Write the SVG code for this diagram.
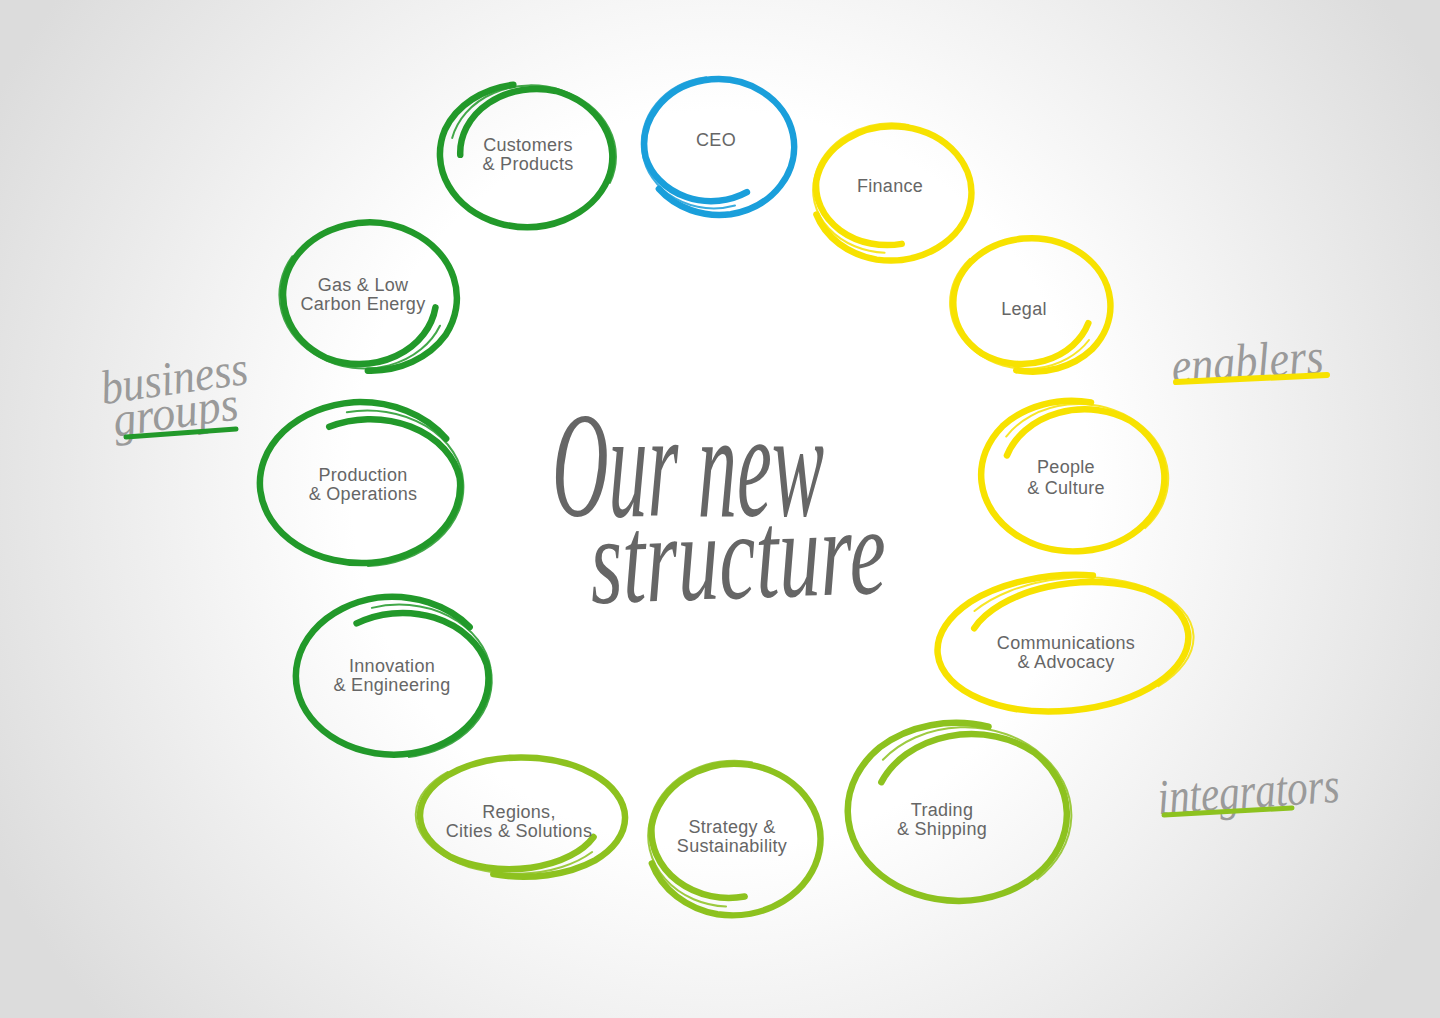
<svg xmlns="http://www.w3.org/2000/svg" xmlns:xlink="http://www.w3.org/1999/xlink" width="1440" height="1018" viewBox="0 0 1440 1018">
<style>
.lbl{font-family:"Liberation Sans",Roboto,Arial,sans-serif;font-size:18px;fill:#666;stroke:none;text-anchor:middle;letter-spacing:0.3px}
.scr{font-family:"Liberation Serif","DejaVu Serif",serif;font-style:italic;stroke:none}
.dg{stroke:#22992a}
.bl{stroke:#1a9fdb}
.yl{stroke:#f7e200}
.lg{stroke:#8dc21f}
.main{fill:none;stroke-width:6.5;stroke-linecap:round}
.hair{fill:none;stroke-width:2;stroke-linecap:round;opacity:0.85}
</style>
<defs>
<radialGradient id="bg" gradientUnits="userSpaceOnUse" cx="720" cy="480" r="820">
<stop offset="0" stop-color="#ffffff"/>
<stop offset="0.45" stop-color="#ffffff"/>
<stop offset="1" stop-color="#dcdcdc"/>
</radialGradient>
<path id="loop" vector-effect="non-scaling-stroke" d="M75,-27 A90,90 0 0 1 0,96 A98,98 0 0 1 -100,0 A101,101 0 0 1 0,-102 A103,103 0 0 1 104,0 A102,102 0 0 1 50,87"/>
<path id="hair" vector-effect="non-scaling-stroke" d="M92,-8 A95,95 0 0 1 -6,99 A100,100 0 0 1 -104,-4 M-20,-101 A104,104 0 0 1 100,-22 A105,105 0 0 1 82,62"/>
</defs>
<rect width="1440" height="1018" fill="url(#bg)"/>

<g id="title">
<text class="scr" x="552" y="516" font-size="150" fill="#666" textLength="272" lengthAdjust="spacingAndGlyphs">Our new</text>
<text class="scr" x="590" y="598" font-size="125" fill="#666" textLength="296" lengthAdjust="spacingAndGlyphs" transform="rotate(-2 738 560)">structure</text>
</g>

<g id="label-business-groups">
<text class="scr" x="102" y="394" font-size="48" fill="#9a9a9a" textLength="148" lengthAdjust="spacingAndGlyphs" transform="rotate(-8 175 392)">business</text>
<text class="scr" x="114" y="428" font-size="48" fill="#9a9a9a" textLength="126" lengthAdjust="spacingAndGlyphs" transform="rotate(-8 175 424)">groups</text>
<path d="M126,437 L236,429" stroke="#22992a" stroke-width="5" stroke-linecap="round" fill="none"/>
</g>
<g id="label-enablers">
<text class="scr" x="1172" y="378" font-size="50" fill="#9a9a9a" textLength="152" lengthAdjust="spacingAndGlyphs" transform="rotate(-4 1248 370)">enablers</text>
<path d="M1176,382 L1327,375" stroke="#f7e200" stroke-width="6" stroke-linecap="round" fill="none"/>
</g>
<g id="label-integrators">
<text class="scr" x="1158" y="808" font-size="50" fill="#9a9a9a" textLength="182" lengthAdjust="spacingAndGlyphs" transform="rotate(-4 1248 800)">integrators</text>
<path d="M1164,815 L1292,808" stroke="#8dc21f" stroke-width="5" stroke-linecap="round" fill="none"/>
</g>

<g id="node-customers" class="dg">
<use href="#loop" class="main" transform="translate(528,155) scale(0.85,0.71) rotate(200)"/>
<use href="#hair" class="hair" transform="translate(528,155) scale(0.85,0.71) rotate(200)"/>
<text class="lbl" x="528" y="151">Customers</text>
<text class="lbl" x="528" y="170">&amp; Products</text>
</g>
<g id="node-ceo" class="bl">
<use href="#loop" class="main" transform="translate(717,146) scale(0.755,0.667) rotate(80)"/>
<use href="#hair" class="hair" transform="translate(717,146) scale(0.755,0.667) rotate(80)"/>
<text class="lbl" x="716" y="146">CEO</text>
</g>
<g id="node-finance" class="yl">
<use href="#loop" class="main" transform="translate(891,192) scale(0.79,0.66) rotate(100)"/>
<use href="#hair" class="hair" transform="translate(891,192) scale(0.79,0.66) rotate(100)"/>
<text class="lbl" x="890" y="192">Finance</text>
</g>
<g id="node-legal" class="yl">
<use href="#loop" class="main" transform="translate(1030,305) scale(0.78,0.66) rotate(40)"/>
<use href="#hair" class="hair" transform="translate(1030,305) scale(0.78,0.66) rotate(40)"/>
<text class="lbl" x="1024" y="315">Legal</text>
</g>
<g id="node-people" class="yl">
<use href="#loop" class="main" transform="translate(1075,476) scale(0.91,0.745) rotate(220)"/>
<use href="#hair" class="hair" transform="translate(1075,476) scale(0.91,0.745) rotate(220)"/>
<text class="lbl" x="1066" y="473">People</text>
<text class="lbl" x="1066" y="494">&amp; Culture</text>
</g>
<g id="node-communications" class="yl">
<use href="#loop" class="main" transform="translate(1066,643) rotate(-5) scale(1.25,0.67) rotate(225)"/>
<use href="#hair" class="hair" transform="translate(1066,643) rotate(-5) scale(1.25,0.67) rotate(225)"/>
<text class="lbl" x="1066" y="649">Communications</text>
<text class="lbl" x="1066" y="668">&amp; Advocacy</text>
</g>
<g id="node-trading" class="lg">
<use href="#loop" class="main" transform="translate(960,812) scale(1.09,0.88) rotate(225)"/>
<use href="#hair" class="hair" transform="translate(960,812) scale(1.09,0.88) rotate(225)"/>
<text class="lbl" x="942" y="816">Trading</text>
<text class="lbl" x="942" y="835">&amp; Shipping</text>
</g>
<g id="node-strategy" class="lg">
<use href="#loop" class="main" transform="translate(733,838) scale(0.86,0.745) rotate(100)"/>
<use href="#hair" class="hair" transform="translate(733,838) scale(0.86,0.745) rotate(100)"/>
<text class="lbl" x="732" y="833">Strategy &amp;</text>
<text class="lbl" x="732" y="852">Sustainability</text>
</g>
<g id="node-regions" class="lg">
<use href="#loop" class="main" transform="translate(520,817) scale(1.02,0.59) rotate(45)"/>
<use href="#hair" class="hair" transform="translate(520,817) scale(1.02,0.59) rotate(45)"/>
<text class="lbl" x="519" y="818">Regions,</text>
<text class="lbl" x="519" y="837">Cities &amp; Solutions</text>
</g>
<g id="node-innovation" class="dg">
<use href="#loop" class="main" transform="translate(395,677) scale(0.97,0.775) rotate(260)"/>
<use href="#hair" class="hair" transform="translate(395,677) scale(0.97,0.775) rotate(260)"/>
<text class="lbl" x="392" y="672">Innovation</text>
<text class="lbl" x="392" y="691">&amp; Engineering</text>
</g>
<g id="node-production" class="dg">
<use href="#loop" class="main" transform="translate(363,484) scale(1.01,0.79) rotate(265)"/>
<use href="#hair" class="hair" transform="translate(363,484) scale(1.01,0.79) rotate(265)"/>
<text class="lbl" x="363" y="481">Production</text>
<text class="lbl" x="363" y="500">&amp; Operations</text>
</g>
<g id="node-gas" class="dg">
<use href="#loop" class="main" transform="translate(368,297) scale(0.86,0.735) rotate(30)"/>
<use href="#hair" class="hair" transform="translate(368,297) scale(0.86,0.735) rotate(30)"/>
<text class="lbl" x="363" y="291">Gas &amp; Low</text>
<text class="lbl" x="363" y="310">Carbon Energy</text>
</g>
</svg>
